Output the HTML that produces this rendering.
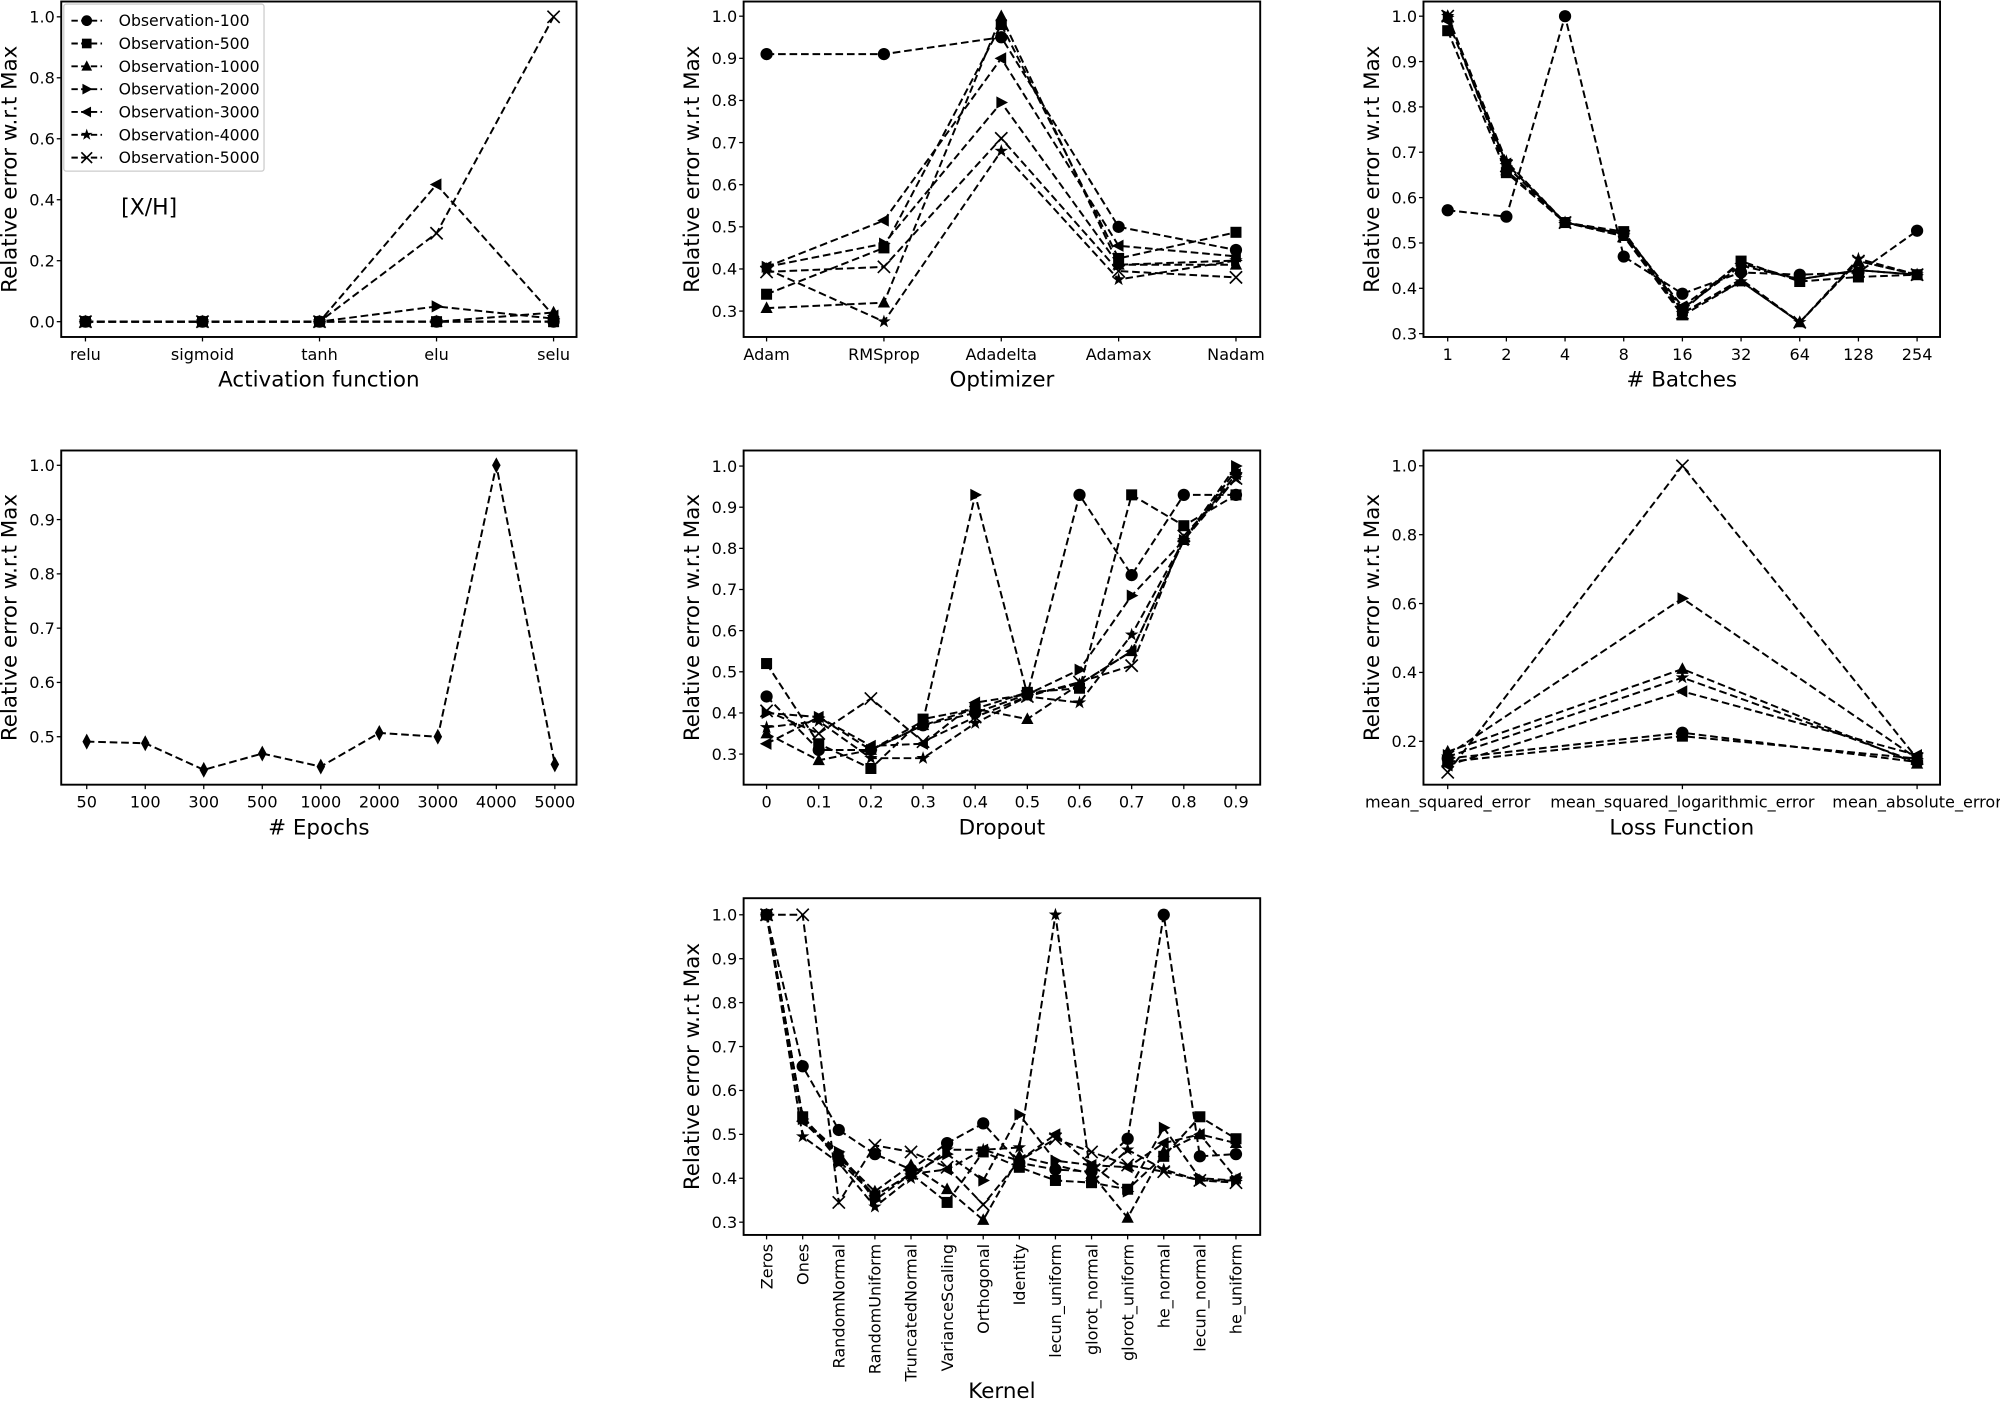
<!DOCTYPE html>
<html><head><meta charset="utf-8"><style>html,body{margin:0;padding:0;background:#fff}svg{display:block}</style></head>
<body>
<svg id="s" xmlns="http://www.w3.org/2000/svg" width="2000" height="1401" viewBox="0 0 1568 1098" font-family="'DejaVu Sans','Liberation Sans',sans-serif">
<rect width="1568" height="1098" fill="#fff"/>
</svg>
<script>
const S=document.getElementById('s');const NS='http://www.w3.org/2000/svg';
function el(t,a,txt){const e=document.createElementNS(NS,t);for(const k in a)e.setAttribute(k,a[k]);if(txt!==undefined)e.textContent=txt;S.appendChild(e);return e;}
function marker(m,x,y,r){r=r||4.8;
 if(m==='o')el('circle',{cx:x,cy:y,r:r,fill:'#000'});
 else if(m==='s')el('rect',{x:x-r*0.9,y:y-r*0.9,width:r*1.8,height:r*1.8,fill:'#000'});
 else if(m==='^')el('polygon',{points:`${x},${y-r*1.1} ${x-r},${y+r*0.8} ${x+r},${y+r*0.8}`,fill:'#000'});
 else if(m==='>')el('polygon',{points:`${x+r*1.1},${y} ${x-r*0.8},${y-r} ${x-r*0.8},${y+r}`,fill:'#000'});
 else if(m==='<')el('polygon',{points:`${x-r*1.1},${y} ${x+r*0.8},${y-r} ${x+r*0.8},${y+r}`,fill:'#000'});
 else if(m==='*'){let p=[];for(let i=0;i<10;i++){const a=-Math.PI/2+i*Math.PI/5;const rr=i%2?r*0.45:r*1.15;p.push((x+rr*Math.cos(a)).toFixed(2)+','+(y+rr*Math.sin(a)).toFixed(2));}el('polygon',{points:p.join(' '),fill:'#000'});}
 else if(m==='x')el('path',{d:`M${x-r},${y-r}L${x+r},${y+r}M${x-r},${y+r}L${x+r},${y-r}`,stroke:'#000','stroke-width':1.3,fill:'none'});
 else if(m==='d')el('polygon',{points:`${x},${y-r*1.3} ${x-r*0.7},${y} ${x},${y+r*1.3} ${x+r*0.7},${y}`,fill:'#000'});
}
const MK=['o','s','^','>','<','*','x'];
function panel(P){
 const {x0,x1,y0,y1,cats,cx0,cx1,v1,p1,v2,p2,yt,ydec,series,xlabel,rot,markers}=P;
 const n=cats.length;const xs=i=>cx0+(cx1-cx0)*i/(n-1);
 const ys=v=>p1+(v-v1)*(p2-p1)/(v2-v1);
 series.forEach((d,si)=>{
  const pts=d.map((v,i)=>xs(i).toFixed(2)+','+ys(v).toFixed(2)).join(' ');
  el('polyline',{points:pts,fill:'none',stroke:'#000','stroke-width':1.55,'stroke-dasharray':'6,3'});
 });
 series.forEach((d,si)=>{const m=(markers||MK)[si];d.forEach((v,i)=>marker(m,xs(i),ys(v)));});
 el('rect',{x:x0,y:y0,width:x1-x0,height:y1-y0,fill:'none',stroke:'#000','stroke-width':1.5});
 yt.forEach(v=>{const y=ys(v);el('line',{x1:x0-3.5,x2:x0,y1:y,y2:y,stroke:'#000','stroke-width':1});
  el('text',{x:x0-5,y:y+4.5,'font-size':12.6,'text-anchor':'end'},v.toFixed(ydec));});
 cats.forEach((c,i)=>{const x=xs(i);el('line',{x1:x,x2:x,y1:y1,y2:y1+3.5,stroke:'#000','stroke-width':1});
  if(rot)el('text',{x:0,y:0,'font-size':12.6,'text-anchor':'end',transform:`translate(${x+4.5},${y1+7}) rotate(-90)`},c);
  else el('text',{x:x,y:y1+18,'font-size':12.6,'text-anchor':'middle'},c);});
 const cy=(y0+y1)/2;
 el('text',{x:0,y:0,'font-size':16.8,'text-anchor':'middle',transform:`translate(${x0-35},${cy}) rotate(-90)`},'Relative error w.r.t Max');
 el('text',{x:(x0+x1)/2,y:P.xly||(y1+39),'font-size':16.8,'text-anchor':'middle'},xlabel);
}
const C1=[48,452],C2=[583,988],C3=[1116,1521],R1=[1,264],R2=[353,615],R3=[704,968];
panel({x0:C1[0],x1:C1[1],y0:R1[0],y1:R1[1],cats:['relu','sigmoid','tanh','elu','selu'],cx0:67,cx1:434,v1:0,p1:252,v2:1,p2:13,yt:[0,0.2,0.4,0.6,0.8,1.0],ydec:1,xlabel:'Activation function',
series:[[0,0,0,0,0],[0,0,0,0,0],[0,0,0,0,0.03],[0,0,0,0.05,0.01],[0,0,0,0.45,0.02],[0,0,0,0,0],[0,0,0,0.29,1.0]]});
el('rect',{x:50,y:3,width:157,height:131,fill:'#fff',stroke:'#ccc','stroke-width':1,rx:2});
['Observation-100','Observation-500','Observation-1000','Observation-2000','Observation-3000','Observation-4000','Observation-5000'].forEach((t,i)=>{
 const y=16+i*17.9;el('line',{x1:56,x2:80,y1:y,y2:y,stroke:'#000','stroke-width':1.5,'stroke-dasharray':'5,2.6'});marker(MK[i],68,y,4.2);
 el('text',{x:93,y:y+4.3,'font-size':12.3},t);});
el('text',{x:95,y:168,'font-size':17.2},'[X/H]');
panel({x0:C2[0],x1:C2[1],y0:R1[0],y1:R1[1],cats:['Adam','RMSprop','Adadelta','Adamax','Nadam'],cx0:601,cx1:969,v1:0.3,p1:243.7,v2:1,p2:12.5,yt:[0.3,0.4,0.5,0.6,0.7,0.8,0.9,1.0],ydec:1,xlabel:'Optimizer',
series:[[0.91,0.91,0.95,0.50,0.445],[0.34,0.45,0.98,0.425,0.487],[0.307,0.32,1.0,0.41,0.41],[0.405,0.46,0.795,0.41,0.42],[0.405,0.515,0.90,0.455,0.43],[0.40,0.275,0.68,0.375,0.42],[0.393,0.405,0.71,0.395,0.38]]});
panel({x0:C3[0],x1:C3[1],y0:R1[0],y1:R1[1],cats:['1','2','4','8','16','32','64','128','254'],cx0:1135,cx1:1503,v1:0.3,p1:261.4,v2:1,p2:12.5,yt:[0.3,0.4,0.5,0.6,0.7,0.8,0.9,1.0],ydec:1,xlabel:'# Batches',
series:[[0.572,0.558,1.0,0.47,0.388,0.435,0.43,0.435,0.527],[0.968,0.655,0.545,0.525,0.35,0.46,0.415,0.425,0.43],[1.0,0.66,0.545,0.515,0.34,0.415,0.325,0.46,0.43],[1.0,0.67,0.545,0.52,0.355,0.45,0.42,0.44,0.43],[0.99,0.675,0.545,0.52,0.36,0.455,0.42,0.44,0.43],[1.0,0.68,0.545,0.52,0.345,0.415,0.325,0.465,0.43],[1.0,0.67,0.545,0.515,0.345,0.42,0.325,0.46,0.43]]});
panel({x0:C1[0],x1:C1[1],y0:R2[0],y1:R2[1],cats:['50','100','300','500','1000','2000','3000','4000','5000'],cx0:68,cx1:435,v1:0.5,p1:577.4,v2:1,p2:364.6,yt:[0.5,0.6,0.7,0.8,0.9,1.0],ydec:1,xlabel:'# Epochs',markers:['d'],
series:[[0.491,0.488,0.439,0.469,0.445,0.507,0.50,1.0,0.449]]});
panel({x0:C2[0],x1:C2[1],y0:R2[0],y1:R2[1],cats:['0','0.1','0.2','0.3','0.4','0.5','0.6','0.7','0.8','0.9'],cx0:601,cx1:969,v1:0.3,p1:591,v2:1,p2:365.2,yt:[0.3,0.4,0.5,0.6,0.7,0.8,0.9,1.0],ydec:1,xlabel:'Dropout',
series:[[0.44,0.31,0.31,0.37,0.40,0.445,0.93,0.735,0.93,0.93],[0.52,0.325,0.265,0.385,0.41,0.45,0.46,0.93,0.855,0.93],[0.35,0.285,0.31,0.37,0.41,0.385,0.47,0.55,0.82,0.99],[0.40,0.39,0.31,0.38,0.93,0.445,0.505,0.685,0.82,1.0],[0.325,0.39,0.32,0.325,0.425,0.445,0.47,0.55,0.82,0.98],[0.365,0.38,0.29,0.29,0.375,0.44,0.425,0.59,0.82,0.97],[0.405,0.35,0.435,0.33,0.39,0.44,0.475,0.515,0.83,0.97]]});
panel({x0:C3[0],x1:C3[1],y0:R2[0],y1:R2[1],cats:['mean_squared_error','mean_squared_logarithmic_error','mean_absolute_error'],cx0:1135,cx1:1503,v1:0.2,p1:581,v2:1,p2:365,yt:[0.2,0.4,0.6,0.8,1.0],ydec:1,xlabel:'Loss Function',
series:[[0.15,0.225,0.14],[0.14,0.215,0.15],[0.17,0.41,0.135],[0.16,0.615,0.15],[0.13,0.345,0.16],[0.155,0.385,0.14],[0.11,1.0,0.15]]});
panel({x0:C2[0],x1:C2[1],y0:R3[0],y1:R3[1],cats:['Zeros','Ones','RandomNormal','RandomUniform','TruncatedNormal','VarianceScaling','Orthogonal','Identity','lecun_uniform','glorot_normal','glorot_uniform','he_normal','lecun_normal','he_uniform'],cx0:601,cx1:969,v1:0.3,p1:958,v2:1,p2:717,yt:[0.3,0.4,0.5,0.6,0.7,0.8,0.9,1.0],ydec:1,xlabel:'Kernel',rot:true,xly:1096,
series:[[1.0,0.655,0.51,0.455,0.42,0.48,0.525,0.435,0.42,0.415,0.49,1.0,0.45,0.455],[1.0,0.54,0.44,0.36,0.41,0.345,0.46,0.425,0.395,0.39,0.375,0.45,0.54,0.49],[1.0,0.54,0.45,0.37,0.43,0.375,0.305,0.45,0.43,0.41,0.31,0.46,0.50,0.48],[1.0,0.535,0.46,0.35,0.41,0.455,0.395,0.545,0.44,0.43,0.37,0.515,0.40,0.395],[1.0,0.53,0.45,0.36,0.41,0.42,0.465,0.44,0.50,0.43,0.425,0.48,0.50,0.40],[1.0,0.495,0.435,0.335,0.40,0.465,0.465,0.47,1.0,0.39,0.465,0.42,0.395,0.395],[1.0,1.0,0.345,0.475,0.46,0.425,0.34,0.44,0.49,0.46,0.43,0.415,0.395,0.39]]});
</script>
</body></html>
